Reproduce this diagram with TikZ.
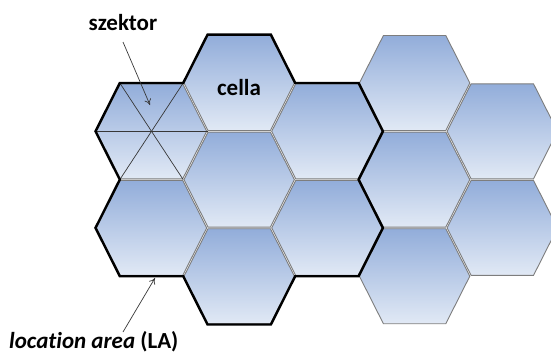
\documentclass[tikz,border=0pt]{standalone}
\usepackage{fontspec}
\setmainfont{Carlito}[Ligatures={NoCommon}]
\usetikzlibrary{arrows.meta}
\definecolor{hextop}{RGB}{146,173,218}
\definecolor{hexbot}{RGB}{225,233,245}
\definecolor{hexline}{RGB}{125,125,125}
\definecolor{ptrgray}{RGB}{55,55,55}
\tikzset{
  hexcell/.style={draw=hexline, line width=0.9pt, top color=hextop, bottom color=hexbot},
  laborder/.style={draw=black, line width=2.4pt, line join=miter},
  sectorline/.style={draw=ptrgray, line width=0.7pt},
  pointer/.style={draw=ptrgray, line width=0.7pt, -{To[length=6pt,width=7pt]}},
  lbl/.style={font=\fontsize{23}{25}\selectfont\bfseries, inner sep=0pt},
}
\newcommand\hexat[3]{%
  \coordinate (#1-c) at (#2,#3);
  \coordinate (#1-0) at (#2+56,#3);
  \coordinate (#1-1) at (#2+31.7,#3-48.3);
  \coordinate (#1-2) at (#2-31.7,#3-48.3);
  \coordinate (#1-3) at (#2-56,#3);
  \coordinate (#1-4) at (#2-31.7,#3+48.3);
  \coordinate (#1-5) at (#2+31.7,#3+48.3);
  \path[hexcell] (#2+55.2,#3) -- (#2+31.2,#3-47.5) -- (#2-31.2,#3-47.5)
     -- (#2-55.2,#3) -- (#2-31.2,#3+47.5) -- (#2+31.2,#3+47.5) -- cycle;
}
\begin{document}
\begin{tikzpicture}[x=1pt,y=-1pt]
\useasboundingbox (0,0) rectangle (551,361);
\clip (0,0) rectangle (551,361);
% column 1
\hexat{a1}{151.5}{131.3}
\hexat{a2}{151.5}{227.9}
% column 2
\hexat{b1}{239.2}{83}
\hexat{b2}{239.2}{179.6}
\hexat{b3}{239.2}{276.2}
% column 3
\hexat{c1}{326.9}{131.3}
\hexat{c2}{326.9}{227.9}
% column 4
\hexat{d1}{414.6}{83}
\hexat{d2}{414.6}{179.6}
\hexat{d3}{414.6}{276.2}
% column 5
\hexat{e1}{502.3}{131.3}
\hexat{e2}{502.3}{227.9}
% sectors
\draw[sectorline] (a1-3) -- (a1-0);
\draw[sectorline] (a1-2) -- (a1-5);
\draw[sectorline] (a1-1) -- (a1-4);
% location area boundary
\path[laborder] (a1-3) -- (a1-2) -- (a1-1) -- (b1-2) -- (b1-1) -- (b1-0)
  -- (c1-1) -- (c1-0) -- (c1-5) -- (c2-0) -- (c2-5) -- (c2-4)
  -- (b3-5) -- (b3-4) -- (b3-3) -- (a2-4) -- (a2-3) -- (a2-2) -- cycle;
% labels
\node[lbl] (szektor) at (123,23) {szektor};
\node[lbl] (cella) at (239,88) {cella};
\node[lbl, anchor=west] (la) at (9,342) {\textit{location area} (LA)};
\coordinate (szektor-tail) at (123,42);
\coordinate (szektor-pt) at (150,105);
\coordinate (la-tail) at (123,332);
\coordinate (la-pt) at (155,278);
\draw[pointer] (szektor-tail) -- (szektor-pt);
\draw[pointer] (la-tail) -- (la-pt);
\end{tikzpicture}
\end{document}
